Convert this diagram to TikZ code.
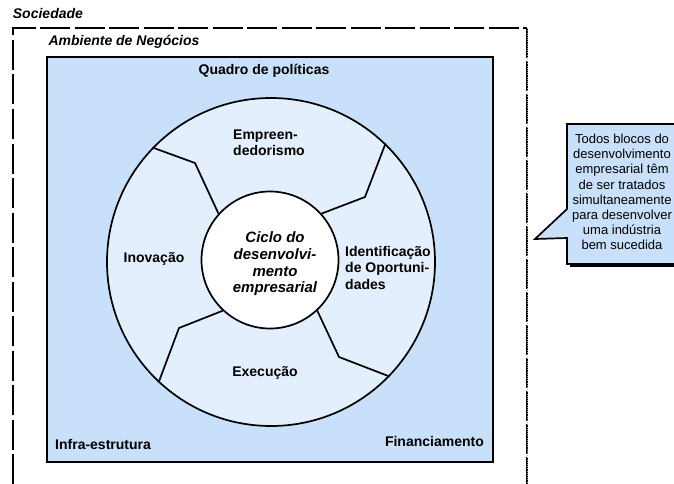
\documentclass[tikz,border=0pt]{standalone}
\usepackage{fontspec}
\setmainfont{Liberation Sans}
\usetikzlibrary{shapes}
\usepackage{xcolor}
\definecolor{policyblue}{RGB}{200,224,249}
\definecolor{ringblue}{RGB}{227,239,252}

\begin{document}
\begin{tikzpicture}[x=10pt,y=10pt]
\tikzstyle{every node}+=[inner sep=0pt]
\tikzstyle{lbl}=[font=\fontsize{14}{16.5}\selectfont\bfseries]
\tikzstyle{ttl}=[font=\fontsize{14}{16}\selectfont\bfseries\itshape]
\tikzstyle{edge}=[black, line width=1.7pt]
\useasboundingbox (0,0) rectangle (67.4,-48.4);
\node (soc) [ttl, anchor=west] at (1.27,-1.33) {Sociedade};
\draw [black, line width=1.7pt, dash pattern=on 30pt off 4.5pt] (1.27,-48.4) -- (1.27,-2.83) -- (52.7,-2.83);
\draw [black, line width=2.8pt, dash pattern=on 30pt off 3pt] (52.7,-2.83) -- (52.7,-48.4);
\draw [gray!70, line width=0.6pt, dash pattern=on 0.8pt off 1.4pt] (52.7,-2.83) -- (52.7,-48.4);
\node (amb) [ttl, anchor=west] at (4.83,-4.22) {Ambiente de Negócios};
\draw [black, line width=1.9pt, fill=policyblue] (4.73,-5.67) rectangle (49.27,-46.17);
\node (quadro) [lbl] at (26.4,-7.1) {Quadro de políticas};
\node (infra) [lbl, anchor=west] at (5.5,-44.4) {Infra-estrutura};
\node (fin) [lbl, anchor=east] at (48.4,-44.1) {Financiamento};
\node (ring) [circle, edge, draw, fill=ringblue, minimum size=328pt] at (27.1,-26.2) {};
\node (hub) [circle, edge, draw, fill=white, minimum size=137pt] at (27.0,-26.0) {};
\draw [edge] (ring.136.5) -- (19.5,-16.3) -- (hub.138);
\draw [edge] (ring.46) -- (36.5,-19.7) -- (hub.42.7);
\draw [edge] (hub.-47.8) -- (33.9,-35.7) -- (ring.-44.3);
\draw [edge] (hub.-133) -- (17.9,-32.8) -- (ring.-133.5);
\node (empr) [lbl, align=left, anchor=west] at (23.3,-14.3) {Empreen-\\dedorismo};
\node (inov) [lbl] at (15.4,-25.9) {Inovação};
\node (ident) [lbl, align=left, anchor=north west] at (34.5,-24.6) {Identificação\\de Oportuni-\\dades};
\node (exec) [lbl] at (26.5,-37.3) {Execução};
\node (ciclo) [font=\fontsize{15}{16.7}\selectfont\bfseries\itshape, align=center] at (27.5,-26.4) {Ciclo do\\desenvolvi-\\mento\\empresarial};
\fill [black] (56.95,-12.65) rectangle (70,-26.65);
\draw [edge, fill=policyblue] (56.7,-12.4) -- (70,-12.4) -- (70,-26.4) -- (56.7,-26.4) -- (56.7,-23.8) -- (53.5,-23.9) -- (56.7,-20.9) -- cycle;
\node (note) [font=\fontsize{13}{15.2}\selectfont, align=center] at (62.2,-19.2) {Todos blocos do\\desenvolvimento\\empresarial têm\\de ser tratados\\simultaneamente\\para desenvolver\\uma indústria\\bem sucedida};
\end{tikzpicture}
\end{document}
